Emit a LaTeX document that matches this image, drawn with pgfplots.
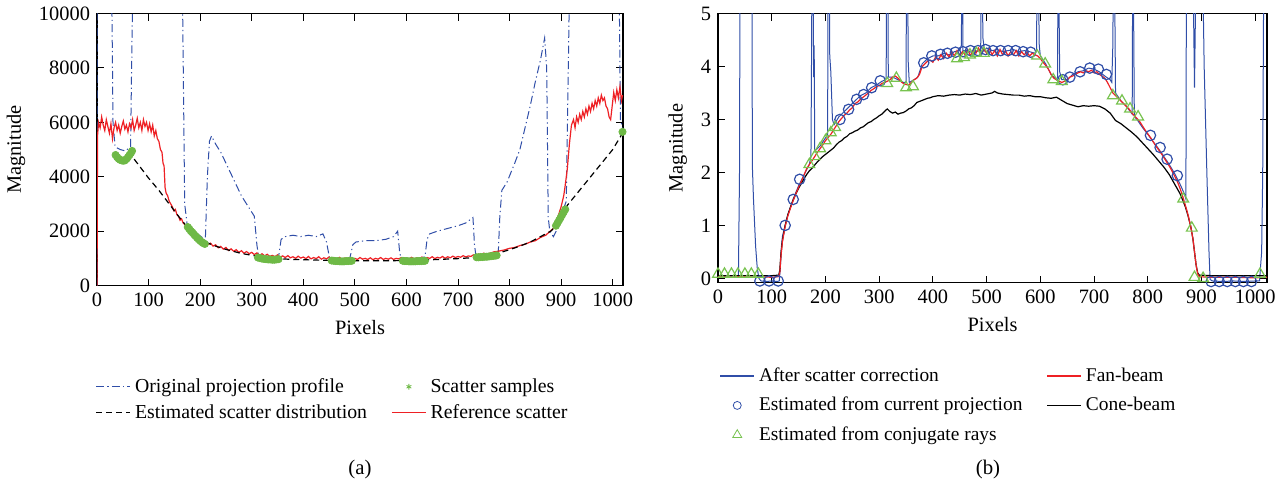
\documentclass[border=0pt]{standalone}
\usepackage{fontspec}
\setmainfont{Liberation Serif}
\usepackage{pgfplots}
\pgfplotsset{compat=1.18}

\definecolor{origblue}{RGB}{48,78,168}
\definecolor{refred}{RGB}{238,32,36}
\definecolor{sampgreen}{RGB}{110,185,70}
\definecolor{trigreen}{RGB}{120,195,80}

\pgfplotsset{
  panel/.style={
    scale only axis,
    anchor=south west,
    axis line style={line width=0.6pt},
    tick style={black,line width=0.5pt},
    major tick length=3.5pt,
    tick align=inside,
    xmin=0,
    xtick={0,100,...,1000},
    scaled ticks=false,
    /pgf/number format/assume math mode=true,
    /pgf/number format/1000 sep={},
    tick label style={font=\fontsize{10.2}{12}\selectfont},
    label style={font=\fontsize{10.2}{12}\selectfont},
    xlabel={Pixels},
    ylabel={Magnitude},
    legend cell align=left,
    legend style={draw=none,fill=none,legend columns=2,
      /tikz/every even column/.append style={column sep=10pt}},
  },
}

\begin{document}
\begin{tikzpicture}
\path (0pt,0pt) rectangle (644pt,-242pt);

% ---------------- (a) ----------------
\begin{axis}[panel,
  at={(48.5pt,-141.5pt)},
  width=263pt, height=136pt,
  xmax=1020, ymin=0, ymax=10000,
  ytick={0,2000,...,10000},
  legend style={at={(-0.015,-0.31)},anchor=north west,
    font=\fontsize{9.9}{11.8}\selectfont, row sep=0.5pt},
]
% original projection profile
\addplot[origblue, line width=0.5pt, dash pattern=on 4pt off 1.6pt on 0.6pt off 1.6pt, forget plot] coordinates {
(0,0) (0.5,12000) (28,12000) (31,6000) (35,5100) (45,5000) (55,4950) (65,5100) (70,12000)
(165,12000) (170,3000) (175,2200) (185,2050) (195,1900) (205,1750) (210,1650) (214,4000)
(218,5300) (222,5500) (230,5200) (240,4900) (250,4500) (260,4100) (270,3700) (280,3300)
(290,3000) (300,2700) (305,2550) (310,1500) (313,1100) (320,1000) (340,1000) (352,1050)
(357,1700) (365,1800) (380,1850) (395,1800) (410,1850) (425,1800) (438,1900) (445,1600)
(451,1000) (470,950) (490,980) (496,1500) (502,1600) (520,1650) (540,1650) (560,1700)
(575,1800) (583,2000) (587,1200) (590,1000) (620,1000) (636,1050) (640,1700) (645,1900)
(660,2000) (680,2100) (700,2200) (715,2300) (729,2500) (732,1500) (735,1050) (760,1100)
(778,1150) (781,2500) (785,3500) (795,3800) (810,4500) (820,5000) (830,5800) (840,6600)
(850,7500) (860,8300) (868,9100) (872,8000) (875,2500) (878,2000) (885,1800) (893,2100)
(900,2600) (910,3100) (917,12000) (1012,12000) (1015,6100) (1019,5800)
};
% reference scatter
\addplot[refred, line width=0.6pt, forget plot] coordinates {
(0,0) (1,5500) (3,6000) (6,5800) (9,6200) (12,5900) (15,5700) (18,6100) (21,5850) (24,5600)
(27,5950) (30,5400) (33,5800) (36,6000) (39,5700) (42,5900) (45,5600) (48,5850) (51,6050)
(54,5750) (57,5900) (60,5650) (63,5950) (66,5800) (69,6100) (72,5700) (75,5900) (78,6150)
(81,5800) (84,6000) (87,5700) (90,6100) (93,5850) (96,6000) (99,5700) (102,5950) (105,5650)
(108,5900) (111,5500) (114,5700) (117,5400) (120,5300) (123,5000) (126,4900) (128,4500)
(130,4400) (132,3600) (134,3400) (137,3300) (140,3100) (143,3000) (146,2900) (149,2750)
(152,2800) (155,2600) (158,2550) (161,2400) (164,2450) (167,2300) (170,2250) (173,2150)
(176,2200) (179,2050) (182,1950) (185,2000) (188,1850) (191,1800) (194,1750) (197,1700)
(200,1650) (203,1700) (206,1600) (209,1550) (212,1600) (215,1500) (220,1560) (225,1450)
(230,1500) (235,1390) (240,1440) (245,1340) (250,1400) (255,1290) (260,1350) (265,1260)
(270,1320) (275,1220) (280,1280) (285,1190) (290,1250) (295,1170) (300,1220) (305,1140)
(310,1200) (315,1110) (320,1170) (325,1090) (330,1150) (335,1070) (340,1110) (345,1060)
(350,1130) (355,1040) (360,1090) (365,1030) (370,1100) (375,1020) (380,1060) (385,1000)
(390,1080) (395,1010) (400,1050) (405,990) (410,1070) (415,980) (420,1030) (425,990)
(430,1060) (435,970) (440,1020) (445,980) (450,1050) (455,960) (460,1010) (465,970)
(470,1040) (475,960) (480,1010) (485,980) (490,1030) (495,950) (500,1000) (505,960)
(510,1030) (515,970) (520,1000) (525,960) (530,1020) (535,950) (540,1000) (545,970)
(550,1030) (555,960) (560,1000) (565,970) (570,1020) (575,960) (580,1000) (585,980)
(590,1030) (595,970) (600,1010) (605,980) (610,1040) (615,970) (620,1020) (625,990)
(630,1050) (635,980) (640,1030) (645,1000) (650,1060) (655,990) (660,1040) (665,1010)
(670,1070) (675,1000) (680,1060) (685,1020) (690,1080) (695,1030) (700,1070) (705,1040)
(710,1100) (715,1050) (720,1090) (725,1070) (730,1130) (735,1090) (740,1160) (745,1110)
(750,1190) (755,1140) (760,1180) (770,1240) (780,1270) (790,1310) (800,1370) (810,1400)
(820,1470) (830,1520) (840,1600) (850,1650) (860,1770) (870,1850) (880,2020) (885,2100)
(890,2300) (895,2600) (900,2900) (905,3300) (908,3700) (912,4300) (916,5200) (920,5900)
(924,6100) (927,5800) (930,6200) (933,6000) (936,6300) (939,6100) (942,6400) (945,6200)
(948,6500) (951,6300) (954,6600) (957,6400) (960,6700) (963,6500) (966,6800) (969,6600)
(972,6900) (975,6700) (978,7000) (981,6800) (984,6900) (987,6600) (990,6500) (993,6200)
(996,6100) (999,6600) (1002,7100) (1005,6800) (1008,7200) (1011,6900) (1014,7300)
(1017,6800) (1019,7000)
};
% scatter samples
\addplot[only marks, mark=*, mark size=1.8pt, sampgreen, forget plot] coordinates {
(36,4800) (39,4720) (42,4660) (45,4620) (48,4600) (51,4590) (54,4600) (57,4650) (60,4720)
(63,4800) (66,4880) (68,4950)
(176,2150) (179,2080) (182,2000) (185,1950) (188,1880) (191,1820) (194,1760) (197,1700)
(200,1650) (203,1600) (206,1560) (209,1530)
(312,1030) (316,1010) (320,990) (324,980) (328,970) (332,960) (336,960) (340,950) (344,950)
(348,960) (352,970)
(455,920) (459,910) (463,900) (467,900) (471,890) (475,890) (479,890) (483,900) (487,900)
(491,910) (494,910)
(593,910) (597,900) (601,900) (605,890) (609,890) (613,890) (617,890) (621,900) (625,900)
(629,900) (633,910) (636,910)
(736,1040) (740,1040) (744,1050) (748,1050) (752,1060) (756,1060) (760,1070) (764,1080)
(768,1090) (772,1100) (775,1110)
(890,2200) (893,2300) (896,2400) (899,2500) (902,2600) (905,2700) (908,2800)
(1019,5650)
};
% estimated scatter distribution
\addplot[black, line width=0.6pt, dash pattern=on 3pt off 2pt, forget plot] coordinates {
(45,4650) (52,4600) (58,4700) (64,4850) (80,4450) (100,3950) (120,3500) (140,3000) (160,2500)
(175,2150) (190,1850) (210,1600) (230,1450) (250,1330) (280,1180) (310,1080) (340,1000)
(380,960) (420,940) (460,920) (500,910) (550,910) (600,920) (650,950) (700,990) (740,1040)
(760,1100) (780,1200) (800,1320) (820,1450) (840,1600) (860,1800) (880,2000) (895,2300)
(905,2700) (912,2950) (940,3600) (970,4300) (1000,5000) (1019,5600)
};
\addlegendimage{origblue, line width=0.6pt, dash pattern=on 4pt off 1.6pt on 0.6pt off 1.6pt}
\addlegendentry{Original projection profile}
\addlegendimage{only marks, mark=asterisk, mark size=1.4pt, sampgreen}
\addlegendentry{Scatter samples}
\addlegendimage{black, line width=0.7pt, dash pattern=on 3pt off 2pt}
\addlegendentry{Estimated scatter distribution}
\addlegendimage{refred, line width=0.7pt}
\addlegendentry{Reference scatter}
\end{axis}

% ---------------- (b) ----------------
\begin{axis}[panel,
  at={(359pt,-140pt)},
  width=274.5pt, height=134.5pt,
  xmax=1022, ymin=-0.08, ymax=5,
  ytick={0,1,...,5},
  legend style={at={(-0.009,-0.285)},anchor=north west,
    font=\fontsize{9.7}{11.6}\selectfont, row sep=2.4pt},
]
% after scatter correction
\addplot[origblue, line width=0.5pt, forget plot] coordinates {
(0,0.05) (10,0.03) (20,0.05) (30,0.04) (38,0.05) (40,2) (41,6) (63,6) (64,2.1) (66,1.5)
(70,0.6) (73,0.2) (76,0.0) (80,-0.05) (90,-0.06) (100,-0.05) (110,-0.06) (114,-0.05)
(116,0.2) (118,0.6) (120,0.8) (125,1.0) (130,1.2) (140,1.5) (150,1.75) (160,1.95) (170,2.15)
(173,2.3) (174,4) (175,6) (177,6) (178,3.8) (179,4.4) (180,2.4) (190,2.5) (200,2.65)
(204,2.7) (205,6) (207,6) (208,4.2) (210,3.9) (213,3.0) (216,2.9) (225,3.05) (235,3.15)
(245,3.25) (255,3.35) (265,3.45) (275,3.5) (285,3.6) (295,3.65) (305,3.72) (312,3.75)
(313,3.8) (314,6) (316,6) (317,3.8) (325,3.8) (335,3.75) (345,3.7) (350,3.7) (351,6)
(353,6) (354,4.1) (356,3.7) (365,3.75) (372,3.8) (380,4.05) (390,4.15) (400,4.2) (410,4.2)
(420,4.25) (430,4.22) (440,4.28) (450,4.3) (453,4.4) (454,6) (455,6) (456,4.3) (465,4.3)
(475,4.25) (485,4.3) (489,4.3) (490,6) (492,6) (493,4.55) (496,4.3) (500,4.35) (510,4.3)
(520,4.32) (530,4.28) (540,4.3) (550,4.32) (560,4.28) (570,4.3) (580,4.28) (590,4.25)
(593,4.3) (594,6) (596,6) (598,4.4) (600,4.2) (610,4.05) (620,3.85) (630,3.75) (632,3.8)
(633,6) (634,6) (636,3.9) (640,3.75) (650,3.75) (660,3.85) (670,3.9) (680,3.92) (690,3.97)
(700,3.95) (710,3.9) (720,3.82) (730,3.75) (733,3.7) (735,4.4) (736,6) (738,6) (740,3.5)
(750,3.35) (760,3.25) (771,3.1) (772,6) (773,6) (775,3.05) (780,3.0) (790,2.85) (800,2.72)
(810,2.58) (820,2.45) (830,2.3) (840,2.15) (850,1.98) (860,1.78) (868,1.6) (871,1.5)
(872,6) (884,6) (887,3.6) (890,6) (902,6) (905,4) (910,2) (914,0.5) (916,-0.02) (920,-0.05)
(940,-0.06) (960,-0.05) (980,-0.06) (1000,-0.05) (1008,-0.05) (1012,0.5) (1014,2) (1016,6)
(1022,6)
};
% cone-beam
\addplot[black, line width=0.6pt, forget plot] coordinates {
(0,0.05) (50,0.05) (100,0.05) (113,0.06) (115,0.15) (117,0.45) (120,0.72) (125,1.0)
(130,1.2) (135,1.35) (140,1.48) (145,1.6) (150,1.7) (155,1.79) (160,1.88) (165,1.96)
(170,2.03) (175,2.08) (180,2.14) (185,2.2) (190,2.25) (195,2.3) (200,2.34) (205,2.38)
(210,2.42) (215,2.46) (220,2.52) (225,2.57) (230,2.6) (235,2.65) (240,2.68) (245,2.73)
(250,2.75) (255,2.78) (260,2.8) (265,2.84) (270,2.86) (275,2.9) (280,2.94) (285,2.96)
(290,3.0) (295,3.03) (300,3.07) (305,3.1) (310,3.15) (315,3.2) (320,3.15) (325,3.12)
(330,3.14) (335,3.1) (340,3.12) (345,3.13) (350,3.16) (355,3.2) (360,3.22) (365,3.26)
(370,3.32) (375,3.34) (380,3.36) (385,3.38) (390,3.4) (395,3.41) (400,3.43) (410,3.45)
(420,3.44) (430,3.46) (440,3.47) (450,3.46) (460,3.48) (470,3.47) (480,3.49) (490,3.46)
(500,3.48) (510,3.5) (515,3.53) (520,3.5) (530,3.48) (540,3.47) (550,3.46) (560,3.46)
(570,3.44) (580,3.45) (590,3.43) (600,3.43) (610,3.41) (620,3.4) (630,3.42) (640,3.36)
(650,3.3) (660,3.27) (670,3.24) (680,3.26) (690,3.25) (700,3.26) (710,3.25) (720,3.2)
(730,3.12) (740,2.98) (750,2.92) (760,2.84) (770,2.76) (780,2.67) (790,2.56) (800,2.45)
(810,2.34) (820,2.22) (830,2.1) (840,1.96) (850,1.78) (860,1.6) (865,1.48) (870,1.35)
(875,1.18) (880,0.98) (884,0.75) (887,0.5) (890,0.25) (893,0.1) (896,0.06) (920,0.05)
(960,0.05) (1000,0.05) (1022,0.05)
};
% fan-beam
\addplot[refred, line width=0.6pt, forget plot] coordinates {
(0,0.03) (20,0.02) (40,0.03) (60,0.02) (80,0.03) (100,0.02) (112,0.03) (115,0.1) (117,0.4)
(120,0.7) (125,0.98) (130,1.18) (135,1.33) (140,1.47) (145,1.6) (150,1.72) (155,1.83)
(160,1.95) (165,2.07) (170,2.15) (175,2.22) (180,2.3) (185,2.38) (190,2.45) (195,2.52)
(200,2.6) (205,2.66) (210,2.72) (215,2.8) (220,2.88) (225,2.96) (230,3.02) (235,3.08)
(240,3.12) (245,3.18) (250,3.22) (255,3.3) (260,3.33) (265,3.38) (270,3.42) (275,3.46)
(280,3.5) (285,3.55) (290,3.58) (295,3.62) (300,3.64) (305,3.68) (310,3.7) (315,3.72)
(320,3.75) (325,3.8) (330,3.82) (335,3.78) (340,3.72) (345,3.68) (350,3.66) (355,3.65)
(360,3.7) (365,3.75) (370,3.78) (375,3.85) (380,4.0) (385,4.05) (390,4.1) (395,4.12)
(400,4.08) (405,4.18) (410,4.12) (415,4.22) (420,4.15) (425,4.25) (430,4.18) (435,4.28)
(440,4.2) (445,4.3) (450,4.2) (455,4.28) (460,4.22) (465,4.32) (470,4.2) (475,4.3)
(480,4.25) (485,4.35) (490,4.22) (495,4.33) (500,4.25) (505,4.35) (510,4.22) (515,4.3)
(520,4.2) (525,4.32) (530,4.22) (535,4.3) (540,4.2) (545,4.28) (550,4.22) (555,4.3)
(560,4.2) (565,4.28) (570,4.22) (575,4.27) (580,4.2) (585,4.25) (590,4.22) (595,4.2)
(600,4.15) (605,4.08) (610,4.02) (615,3.95) (620,3.85) (625,3.78) (630,3.75) (635,3.72)
(640,3.7) (645,3.72) (650,3.75) (655,3.8) (660,3.82) (665,3.85) (670,3.88) (675,3.9)
(680,3.88) (685,3.92) (690,3.9) (695,3.93) (700,3.88) (705,3.9) (710,3.85) (715,3.82)
(720,3.78) (725,3.7) (730,3.6) (735,3.5) (740,3.45) (745,3.4) (750,3.35) (755,3.3)
(760,3.25) (765,3.2) (770,3.13) (775,3.07) (780,3.02) (785,2.96) (790,2.88) (795,2.8)
(800,2.73) (805,2.66) (810,2.58) (815,2.5) (820,2.43) (825,2.36) (830,2.28) (835,2.2)
(840,2.12) (845,2.03) (850,1.93) (855,1.83) (860,1.7) (865,1.55) (870,1.38) (875,1.2)
(880,0.98) (884,0.75) (887,0.5) (890,0.25) (893,0.08) (896,0.03) (920,0.02) (960,0.02)
(1000,0.01) (1022,0.02)
};
% estimated from current projection
\addplot[only marks, mark=o, mark size=2.6pt, origblue, mark options={line width=0.6pt}, forget plot] coordinates {
(78,-0.05) (95,-0.05) (112,-0.05) (125,1.0) (140,1.49) (152,1.87) (227,3.0) (243,3.19)
(258,3.38) (271,3.47) (286,3.6) (302,3.73) (383,4.07) (398,4.2) (414,4.23) (427,4.25)
(442,4.27) (456,4.28) (470,4.3) (484,4.3) (498,4.32) (512,4.3) (526,4.3) (540,4.3)
(554,4.3) (568,4.28) (582,4.27) (642,3.75) (655,3.8) (674,3.9) (692,3.97) (708,3.95)
(723,3.85) (805,2.7) (823,2.47) (836,2.25) (855,1.94) (918,-0.06) (933,-0.06) (948,-0.06)
(963,-0.06) (978,-0.06) (993,-0.06)
};
% estimated from conjugate rays
\addplot[only marks, mark=triangle, mark size=3.1pt, trigreen, mark options={line width=0.6pt}, forget plot] coordinates {
(0,0.08) (12,0.08) (25,0.08) (37,0.08) (50,0.08) (62,0.08) (75,0.08) (170,2.15) (180,2.3)
(190,2.45) (200,2.6) (210,2.75) (218,2.85) (315,3.68) (332,3.78) (350,3.6) (363,3.62)
(445,4.15) (458,4.17) (469,4.22) (481,4.25) (495,4.25) (594,4.2) (609,4.05) (624,3.75)
(640,3.72) (735,3.45) (752,3.35) (767,3.2) (782,3.05) (866,1.5) (882,0.95) (887,0.02)
(903,0.0) (1009,0.08)
};
\addlegendimage{origblue, line width=0.7pt}
\addlegendentry{After scatter correction}
\addlegendimage{refred, line width=0.7pt}
\addlegendentry{Fan-beam}
\addlegendimage{only marks, mark=o, mark size=2pt, origblue}
\addlegendentry{Estimated from current projection}
\addlegendimage{black, line width=0.7pt}
\addlegendentry{Cone-beam}
\addlegendimage{only marks, mark=triangle, mark size=2.6pt, trigreen}
\addlegendentry{Estimated from conjugate rays}
\end{axis}

\node[font=\fontsize{10.4}{12}\selectfont] at (180pt,-233.5pt) {(a)};
\node[font=\fontsize{10.4}{12}\selectfont] at (494pt,-233.5pt) {(b)};
\end{tikzpicture}
\end{document}
